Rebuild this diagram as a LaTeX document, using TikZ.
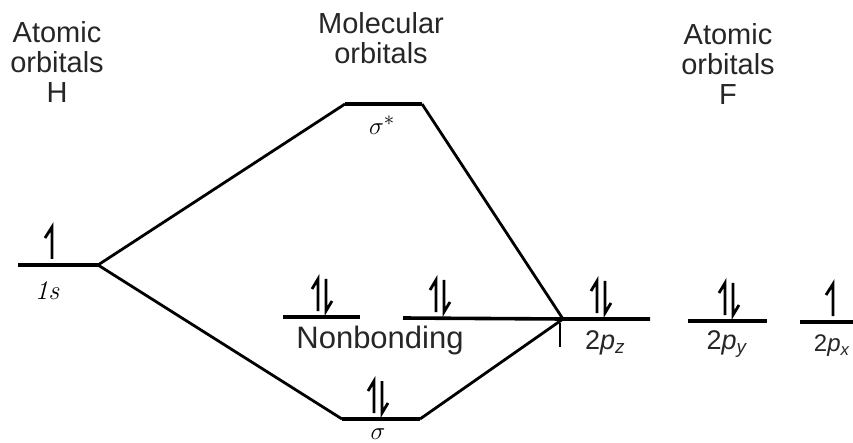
\documentclass[tikz,border=0pt]{standalone}
\usepackage{fontspec}
\setmainfont{Liberation Sans}
\begin{document}
\begin{tikzpicture}[x=1pt,y=-1pt,
  level/.style={line width=3.6pt},
  link/.style={line width=2.8pt},
  head/.style={font=\fontsize{29}{30}\selectfont, align=center, text=black!85},
  lab/.style={font=\fontsize{31}{32}\selectfont, text=black!85},
  eup/.pic={\draw[line width=2.8pt] (0,-6) -- (0,-38) -- (-7,-27);},
  epair/.pic={\draw[line width=2.8pt] (-4,-6) -- (-4,-38) -- (-10,-28);
              \draw[line width=2.8pt] (4,-38) -- (4,-6) -- (10,-16);}
]
\useasboundingbox (0,0) rectangle (853,443);
% level end points
\coordinate (hL) at (18,265);   \coordinate (hR) at (98,265);
\coordinate (sSL) at (345,104); \coordinate (sSR) at (422,104);
\coordinate (n1L) at (283,317); \coordinate (n1R) at (360,317);
\coordinate (n2L) at (403,318); \coordinate (j) at (563,319);
\coordinate (zR) at (650,319);
\coordinate (yL) at (688,321);  \coordinate (yR) at (767,321);
\coordinate (xL) at (800,322);  \coordinate (xR) at (853,322);
\coordinate (sL) at (342,419);  \coordinate (sR) at (420,419);
\coordinate (tickT) at (560,323); \coordinate (tickB) at (560,347);
% levels
\draw[level] (hL) -- (hR);
\draw[level] (sSL) -- (sSR);
\draw[level] (n1L) -- (n1R);
\draw[level] (n2L) -- (j) -- (zR);
\draw[level] (yL) -- (yR);
\draw[level] (xL) -- (xR);
\draw[level] (sL) -- (sR);
% connectors
\draw[link] (hR) -- (sSL);
\draw[link] (sSR) -- (j);
\draw[link] (hR) -- (sL);
\draw[link] (sR) -- (j);
\draw[line width=1.8pt] (tickT) -- (tickB);
% electrons
\pic at (52,265) {eup};
\pic at (322,317) {epair};
\pic at (440,318) {epair};
\pic at (601,319) {epair};
\pic at (729,321) {epair};
\pic at (833,322) {eup};
\pic at (378,419) {epair};
% labels
\node[head] (hH) at (57,62) {Atomic\\orbitals\\H};
\node[head] (hM) at (381,38) {Molecular\\orbitals};
\node[head] (hF) at (728,64) {Atomic\\orbitals\\F};
\node[font=\fontsize{27}{28}\selectfont] (l1s) at (47,291) {\fontspec{Latin Modern Roman}\itshape 1s};
\node[font=\fontsize{30}{30}\selectfont] (lss) at (382,125) {$\sigma^{\ast}$};
\node[font=\fontsize{28}{28}\selectfont, inner sep=0pt] (ls) at (378,434) {$\sigma$};
\node[lab] (lnb) at (380,340) {Nonbonding};
\node[lab,font=\fontsize{27}{28}\selectfont] (lz) at (605,343) {2\textit{p}\textsubscript{\textit{z}}};
\node[lab,font=\fontsize{27}{28}\selectfont] (ly) at (727,344) {2\textit{p}\textsubscript{\textit{y}}};
\node[lab,font=\fontsize{24}{26}\selectfont] (lx) at (832,346) {2\textit{p}\textsubscript{\textit{x}}};
\end{tikzpicture}
\end{document}
